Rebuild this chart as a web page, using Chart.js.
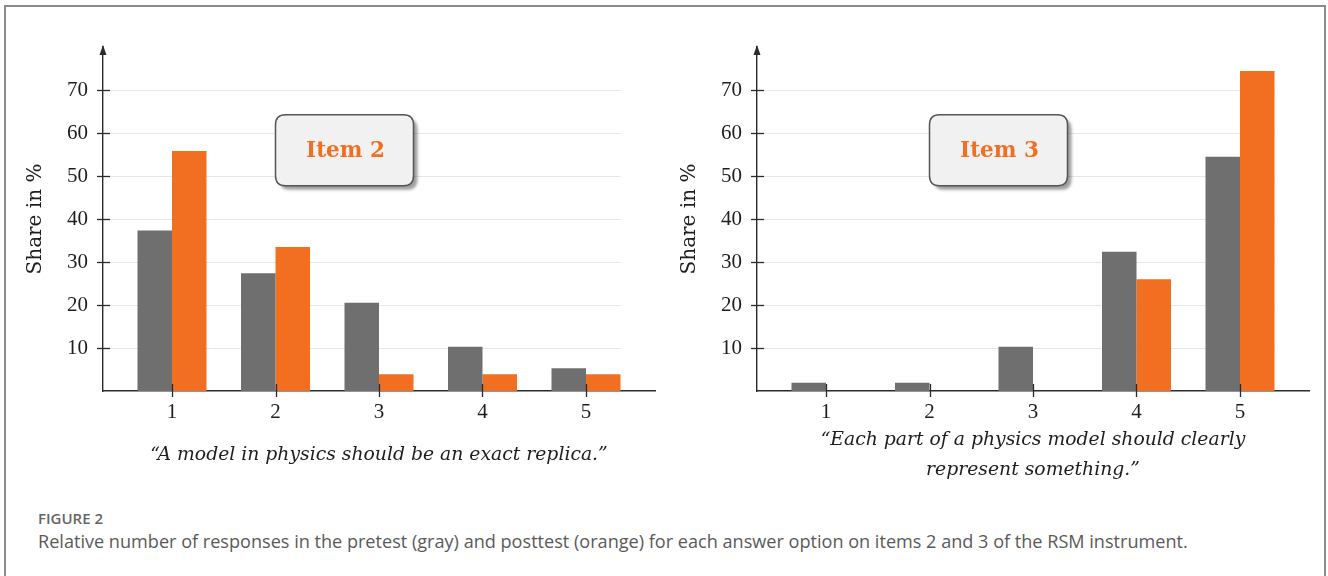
<!DOCTYPE html>
<html><head><meta charset="utf-8">
<script src="https://cdn.jsdelivr.net/npm/chart.js@4.4.1/dist/chart.umd.min.js"></script>
<style>
html,body{margin:0;padding:0;background:#fff;width:1328px;height:576px;overflow:hidden;position:relative;}
#frame{position:absolute;left:4px;top:5px;width:1322px;height:620px;border:2px solid #8c8c8c;border-bottom:none;box-sizing:border-box;}
canvas{position:absolute;top:0;}
#c1{left:0px} #c2{left:654px}
#figlabel{position:absolute;left:38px;top:508px;font:600 15px 'Open Sans';color:#666;white-space:nowrap;}
#caption{position:absolute;left:38px;top:529px;font:400 18.1px 'Open Sans';color:#5a5a5a;white-space:nowrap;}
</style></head>
<body>
<div id="frame"></div>
<canvas id="c1" width="664" height="500"></canvas>
<canvas id="c2" width="664" height="500"></canvas>
<div id="figlabel">FIGURE 2</div>
<div id="caption">Relative number of responses in the pretest (gray) and posttest (orange) for each answer option on items 2 and 3 of the RSM instrument.</div>
<script>
// ---- data ----
const categories = [1, 2, 3, 4, 5];
const yTickValues = [10, 20, 30, 40, 50, 60, 70];
const seriesNames = ['Pretest', 'Posttest'];
const item2Pretest = [37.3, 27.4, 20.5, 10.3, 5.3];
const item2Posttest = [55.8, 33.5, 3.9, 3.9, 3.9];
const item3Pretest = [1.9, 1.9, 10.3, 32.4, 54.5];
const item3Posttest = [0, 0, 0, 26.0, 74.4];
const item2Label = 'Item 2';
const item3Label = 'Item 3';
const item2Statement = ['\u201CA model in physics should be an exact replica.\u201D'];
const item3Statement = ['\u201CEach part of a physics model should clearly', 'represent something.\u201D'];
const yAxisTitle = 'Share in %';

// ---- styles ----
const GRAY = '#6f6f6f', ORANGE = '#f26f21', AXIS = '#2b2b2b', TEXT = '#1e1e1e';
const X_MIN = categories[0] - 2/3, X_MAX = categories[categories.length - 1] + 2/3;
const GRID_END = categories[categories.length - 1] + 1/3;
const BOX_X = 8/3, BOX_Y = 56;

function roundRect(ctx, x, y, w, h, r) {
  ctx.beginPath();
  ctx.moveTo(x + r, y);
  ctx.lineTo(x + w - r, y); ctx.quadraticCurveTo(x + w, y, x + w, y + r);
  ctx.lineTo(x + w, y + h - r); ctx.quadraticCurveTo(x + w, y + h, x + w - r, y + h);
  ctx.lineTo(x + r, y + h); ctx.quadraticCurveTo(x, y + h, x, y + h - r);
  ctx.lineTo(x, y + r); ctx.quadraticCurveTo(x, y, x + r, y);
  ctx.closePath();
}

const decor = {
  id: 'decor',
  beforeDatasetsDraw(chart) {
    const {ctx, chartArea: a, scales: {x, y}} = chart;
    ctx.save();
    ctx.strokeStyle = '#e6e6e6'; ctx.lineWidth = 1;
    const xe = x.getPixelForValue(GRID_END);
    yTickValues.forEach(v => {
      const py = Math.round(y.getPixelForValue(v)) + 0.5;
      ctx.beginPath(); ctx.moveTo(a.left, py); ctx.lineTo(xe, py); ctx.stroke();
    });
    ctx.restore();
  },
  afterDatasetsDraw(chart, args, opts) {
    const {ctx, chartArea: a, scales: {x, y}} = chart;
    ctx.save();
    ctx.strokeStyle = AXIS; ctx.lineWidth = 1.3;
    yTickValues.forEach(v => {
      const py = Math.round(y.getPixelForValue(v)) + 0.5;
      ctx.beginPath(); ctx.moveTo(a.left - 6, py); ctx.lineTo(a.left + 7, py); ctx.stroke();
    });
    categories.forEach(c => {
      const px = Math.round(x.getPixelForValue(c)) + 0.5;
      ctx.beginPath(); ctx.moveTo(px, a.bottom - 7); ctx.lineTo(px, a.bottom + 6); ctx.stroke();
    });
    // arrow head
    ctx.fillStyle = AXIS;
    ctx.beginPath();
    ctx.moveTo(a.left, a.top - 2); ctx.lineTo(a.left - 3.5, a.top + 8); ctx.lineTo(a.left + 3.5, a.top + 8);
    ctx.closePath(); ctx.fill();
    // item box
    const cx = x.getPixelForValue(BOX_X), cy = y.getPixelForValue(BOX_Y);
    const w = 138, h = 71;
    ctx.save();
    ctx.shadowColor = 'rgba(0,0,0,0.38)'; ctx.shadowOffsetX = 4; ctx.shadowOffsetY = 4; ctx.shadowBlur = 3;
    roundRect(ctx, cx - w/2, cy - h/2, w, h, 10);
    ctx.fillStyle = '#f1f1f1'; ctx.fill();
    ctx.restore();
    roundRect(ctx, cx - w/2, cy - h/2, w, h, 10);
    ctx.strokeStyle = '#555'; ctx.lineWidth = 1.5; ctx.stroke();
    ctx.fillStyle = ORANGE;
    ctx.font = 'bold 21.5px "DejaVu Serif"';
    ctx.textAlign = 'center'; ctx.textBaseline = 'middle';
    ctx.fillText(opts.label, cx + 1, cy + 1);
    ctx.restore();
  }
};

function makeChart(id, pre, post, itemLabel, statement) {
  const n = statement.length;
  return new Chart(document.getElementById(id), {
    type: 'bar',
    data: {
      datasets: [
        {label: seriesNames[0], data: categories.map((c, i) => ({x: c, y: pre[i]})), backgroundColor: GRAY},
        {label: seriesNames[1], data: categories.map((c, i) => ({x: c, y: post[i]})), backgroundColor: ORANGE}
      ]
    },
    options: {
      responsive: false, animation: false, devicePixelRatio: 1,
      layout: {padding: {left: 20, right: 9, top: 47, bottom: 0}},
      datasets: {bar: {categoryPercentage: 2/3, barPercentage: 1, borderWidth: 0}},
      plugins: {legend: {display: false}, tooltip: {enabled: false}, decor: {label: itemLabel}},
      scales: {
        x: {
          type: 'linear', min: X_MIN, max: X_MAX, offset: false, z: 1,
          afterBuildTicks: s => { s.ticks = categories.map(v => ({value: v})); },
          afterFit: s => { s.height = 109; },
          grid: {display: true, drawOnChartArea: false, drawTicks: false},
          border: {display: true, color: AXIS, width: 1.4},
          ticks: {padding: 9, color: TEXT, autoSkip: false, maxRotation: 0,
                  font: {family: 'Liberation Serif', size: 21}, callback: v => String(v)},
          title: {display: true, text: statement, color: TEXT,
                  font: {family: 'DejaVu Serif', style: 'italic', size: 18.8, lineHeight: 30/18.8},
                  padding: {top: 0, bottom: 30 - 15 * (n - 1)}}
        },
        y: {
          type: 'linear', min: 0, max: 80, z: 1,
          afterBuildTicks: s => { s.ticks = yTickValues.map(v => ({value: v})); },
          afterFit: s => { s.width = 83; },
          grid: {display: true, drawOnChartArea: false, drawTicks: false},
          border: {display: true, color: AXIS, width: 1.4},
          ticks: {padding: 15, color: TEXT, font: {family: 'Liberation Serif', size: 21}},
          title: {display: true, text: yAxisTitle, color: TEXT,
                  font: {family: 'DejaVu Serif', size: 20, lineHeight: 1.2},
                  padding: {top: 4, bottom: 0}}
        }
      }
    },
    plugins: [decor]
  });
}

makeChart('c1', item2Pretest, item2Posttest, item2Label, item2Statement);
makeChart('c2', item3Pretest, item3Posttest, item3Label, item3Statement);
</script>
</body></html>
